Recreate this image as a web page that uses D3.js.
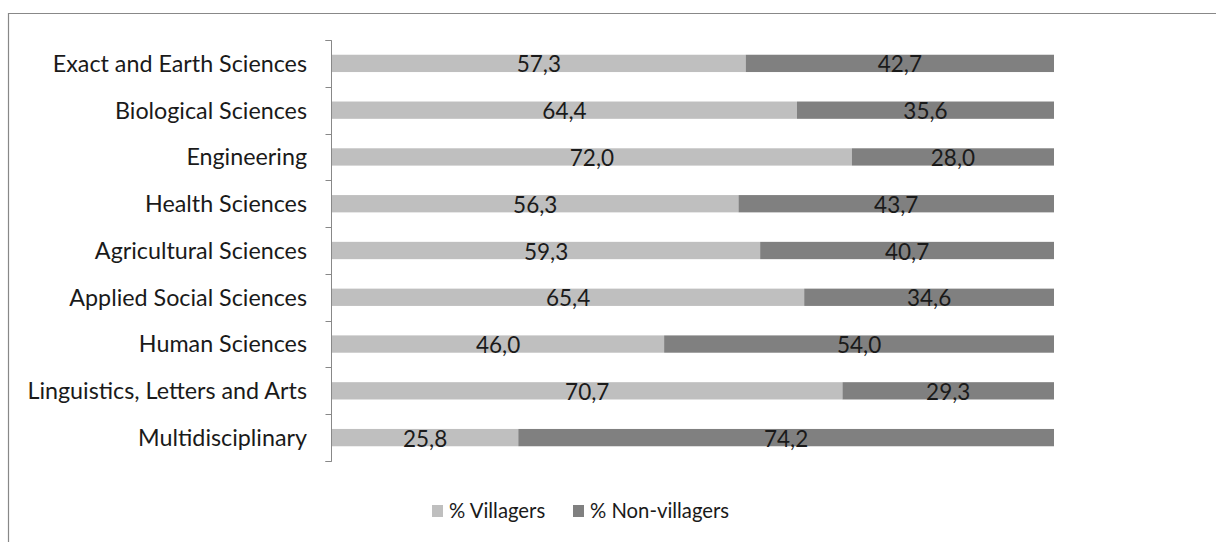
<!DOCTYPE html>
<html><head><meta charset="utf-8">
<script src="https://cdn.jsdelivr.net/npm/d3@7"></script>
<style>body{margin:0;background:#fff}svg{display:block}text{font-family:Lato,"Open Sans",sans-serif}</style>
</head><body><svg id="c" width="1216" height="542"></svg>
<script>
const categories = ["Exact and Earth Sciences","Biological Sciences","Engineering","Health Sciences","Agricultural Sciences","Applied Social Sciences","Human Sciences","Linguistics, Letters and Arts","Multidisciplinary"];
const villagers = [57.3,64.4,72.0,56.3,59.3,65.4,46.0,70.7,25.8];
const nonVillagers = [42.7,35.6,28.0,43.7,40.7,34.6,54.0,29.3,74.2];
const seriesNames = ["% Villagers","% Non-villagers"];
const colors = ["#bfbfbf","#808080"];

const svg = d3.select("#c");
svg.append("path").attr("d","M8.5,542V13.5H1216").attr("fill","none").attr("stroke","#888").attr("stroke-width",1.2);

const x = d3.scaleLinear().domain([0,100]).range([332,1054]);
const y = d3.scaleBand().domain(categories).range([40,461]).paddingInner(0.63).paddingOuter(0.315);
const yb = d3.scaleBand().domain(categories).range([40,461]);

const rows = categories.map((c,i)=>({c, v:[villagers[i], nonVillagers[i]]}));
const g = svg.append("g");
rows.forEach(r=>{
  let acc=0;
  r.v.forEach((v,k)=>{
    const x0=x(acc), x1=x(acc+v);
    g.append("rect").attr("x",x0).attr("y",y(r.c)).attr("width",x1-x0).attr("height",y.bandwidth()).attr("fill",colors[k]);
    g.append("text").attr("x",(x0+x1)/2).attr("y",y(r.c)+y.bandwidth()/2+1).attr("dy","0.36em")
      .attr("text-anchor","middle").attr("font-size",22.5).attr("fill","#1a1a1a").text(v.toFixed(1).replace(".",","));
    acc+=v;
  });
});

// axis
const ax = svg.append("g").attr("transform","translate(331.5,0)")
  .call(d3.axisLeft(yb).tickSize(6).tickPadding(18).tickValues([]));
ax.select(".domain").attr("stroke","#888").attr("d","M-6,40.5H0V461.5H-6");
const ticks=[...categories.map(c=>yb(c)),461];
ax.selectAll(".tk").data(ticks).enter().append("line").attr("x1",-6).attr("x2",0).attr("y1",d=>Math.round(d)+0.5).attr("y2",d=>Math.round(d)+0.5).attr("stroke","#888");
svg.append("g").selectAll("text").data(categories).enter().append("text")
  .attr("x",307).attr("y",d=>yb(d)+yb.bandwidth()/2).attr("dy","0.36em").attr("text-anchor","end")
  .attr("font-size",23.3).attr("fill","#1a1a1a").text(d=>d);

// legend
const leg = svg.append("g");
const lx=[432,573];
seriesNames.forEach((s,i)=>{
  leg.append("rect").attr("x",lx[i]).attr("y",505).attr("width",11).attr("height",12).attr("fill",colors[i]);
  leg.append("text").attr("x",lx[i]+17).attr("y",511).attr("dy","0.36em").attr("font-size",20.3).attr("fill","#1a1a1a").text(s);
});
</script></body></html>
